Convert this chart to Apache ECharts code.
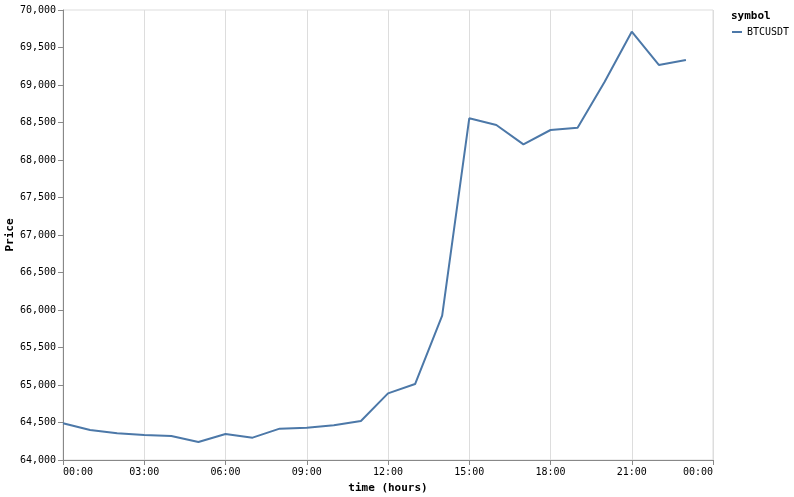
<!DOCTYPE html>
<html>
<head>
<meta charset="utf-8">
<script src="https://cdn.jsdelivr.net/npm/echarts@6/dist/echarts.min.js"></script>
<style>
  html, body { margin: 0; padding: 0; background: #fff; }
  #chart { width: 794px; height: 497px; }
</style>
</head>
<body>
<div id="chart"></div>
<script>
  // hour of day for each sample
  const hours = [0, 1, 2, 3, 4, 5, 6, 7, 8, 9, 10, 11, 12, 13, 14, 15, 16, 17, 18, 19, 20, 21, 22, 23];
  const btcPrice = [64489, 64400, 64356, 64333, 64320, 64240, 64347, 64298, 64418, 64431, 64462, 64520,
                    64889, 65013, 65924, 68556, 68467, 68209, 68400, 68431, 69044, 69711, 69267, 69333];
  const seriesName = 'BTCUSDT';

  const mono = '"DejaVu Sans Mono", monospace';
  const chart = echarts.init(document.getElementById('chart'));

  const pad = n => (n < 10 ? '0' : '') + n;

  chart.setOption({
    animation: false,
    textStyle: { fontFamily: mono },
    grid: {
      left: 63, right: 81, top: 10, bottom: 37,
      outerBoundsMode: 'none',
      containLabel: false,
      show: true, borderColor: '#ddd', borderWidth: 1
    },
    title: {
      text: 'symbol',
      left: 726,
      top: 6,
      textStyle: { fontFamily: mono, fontSize: 11, fontWeight: 'bold', color: '#000' }
    },
    legend: {
      left: 727,
      top: 22,
      icon: 'rect',
      itemWidth: 10,
      itemHeight: 2,
      itemGap: 4,
      textStyle: { fontFamily: mono, fontSize: 10, color: '#000' },
      data: [seriesName]
    },
    xAxis: {
      type: 'value',
      min: 0,
      max: 24,
      interval: 3,
      name: 'time (hours)',
      nameLocation: 'middle',
      nameGap: 23,
      nameTextStyle: { fontFamily: mono, fontSize: 11, fontWeight: 'bold', color: '#000' },
      axisLine: { lineStyle: { color: '#888' } },
      axisTick: { show: true, length: 5, lineStyle: { color: '#888' } },
      axisLabel: {
        fontFamily: mono,
        fontSize: 10,
        color: '#000',
        margin: 7,
        alignMinLabel: 'left',
        alignMaxLabel: 'right',
        formatter: v => pad(v % 24) + ':00'
      },
      splitLine: { show: true, lineStyle: { color: '#ddd' } }
    },
    yAxis: {
      type: 'value',
      min: 64000,
      max: 70000,
      interval: 500,
      name: 'Price',
      nameLocation: 'middle',
      nameGap: 47,
      nameMoveOverlap: false,
      nameTextStyle: { fontFamily: mono, fontSize: 11, fontWeight: 'bold', color: '#000' },
      axisLine: { show: true, lineStyle: { color: '#888' } },
      axisTick: { show: true, length: 5, lineStyle: { color: '#888' } },
      axisLabel: {
        fontFamily: mono,
        fontSize: 10,
        color: '#000',
        margin: 7,
        formatter: v => v.toLocaleString('en-US')
      },
      splitLine: { show: false }
    },
    series: [{
      name: seriesName,
      type: 'line',
      data: hours.map((h, i) => [h, btcPrice[i]]),
      showSymbol: false,
      symbol: 'none',
      color: '#4c78a8',
      lineStyle: { color: '#4c78a8', width: 2 }
    }]
  });
</script>
</body>
</html>
